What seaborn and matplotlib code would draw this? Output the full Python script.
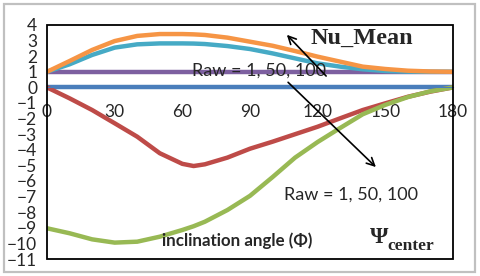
import numpy as np
import pandas as pd
import matplotlib
matplotlib.use("Agg")
import matplotlib.pyplot as plt
from matplotlib.patches import Rectangle
import seaborn as sns

# Data (every 10 degrees, plus the red minimum at 65)
angles = [0, 10, 20, 30, 40, 50, 60, 65, 70, 80, 90, 100, 110, 120, 130, 140, 150, 160, 170, 180]
blue_vals = [0] * 20
purple_vals = [1] * 20
red_vals = [0, -0.7, -1.45, -2.3, -3.16, -4.22, -4.9, -5.04, -4.93, -4.5, -3.93,
            -3.48, -3.0, -2.52, -1.98, -1.45, -1.02, -0.6, -0.27, 0]
green_vals = [-9.03, -9.35, -9.74, -9.95, -9.89, -9.57, -9.14, -8.9, -8.61, -7.86, -6.95,
              -5.75, -4.5, -3.5, -2.6, -1.72, -1.12, -0.62, -0.25, 0]
teal_vals = [1.0, 1.48, 2.08, 2.55, 2.76, 2.82, 2.82, 2.81, 2.78, 2.65, 2.46,
             2.18, 1.86, 1.54, 1.33, 1.16, 1.05, 1.01, 1.0, 1.0]
orange_vals = [1.0, 1.69, 2.4, 2.97, 3.3, 3.42, 3.42, 3.4, 3.36, 3.19, 2.93,
               2.67, 2.33, 1.97, 1.65, 1.33, 1.18, 1.07, 1.02, 1.0]

x_ticks = [0, 30, 60, 90, 120, 150, 180]
y_ticks = list(range(-11, 5))

series = [
    ("blue", blue_vals, "#4a7ebb"),
    ("red", red_vals, "#be4b48"),
    ("green", green_vals, "#98b954"),
    ("purple", purple_vals, "#7d60a0"),
    ("teal", teal_vals, "#46aac5"),
    ("orange", orange_vals, "#f69545"),
]

sns.set_style("white")
plt.rcParams['font.family'] = ['Lato', 'DejaVu Sans']

fig = plt.figure(figsize=(4.8, 2.76), dpi=100)
ax = fig.add_axes([47 / 480, 1 - 259 / 276, 406 / 480, 234 / 276])

for name, vals, col in series:
    sns.lineplot(x=angles, y=vals, color=col, lw=3.2, ax=ax, legend=False,
                 solid_joinstyle='round', solid_capstyle='round')

ax.set_xlim(0, 180)
ax.set_ylim(-11, 4)
ax.set_xticks(x_ticks)
ax.set_yticks(y_ticks)
ax.tick_params(axis='both', length=0, labelsize=12.5)
ax.tick_params(axis='y', pad=7)
ax.tick_params(axis='x', pad=12)

# x axis crosses at zero, plot area keeps its own border
for s in ['top', 'right', 'left']:
    ax.spines[s].set_visible(False)
ax.spines['bottom'].set_position(('data', 0))
ax.spines['bottom'].set_color('#4a7ebb')
ax.add_patch(Rectangle((0, 0), 1, 1, transform=ax.transAxes, fill=False,
                       ec='black', lw=1.3, clip_on=False, zorder=5))

# chart area frame
fig.add_artist(Rectangle((4 / 480, 4 / 276), 471 / 480, 268 / 276,
                         transform=fig.transFigure, fill=False,
                         ec='#c0c0c0', lw=1.6))

# annotations
ax.text(139.5, 3.17, "Nu_Mean", family='Liberation Serif', weight='bold',
        fontsize=17.5, ha='center', va='center')
ax.text(94, 1.1, "Raw = 1, 50, 100", fontsize=13, ha='center', va='center')
ax.text(135, -6.85, "Raw = 1, 50, 100", fontsize=13, ha='center', va='center')
ax.text(84.4, -9.8, "inclination angle (\u03a6)", weight='bold', fontsize=12.2,
        ha='center', va='center', family=['Lato', 'DejaVu Sans'])
ax.text(143.2, -9.65, "\u03a8", family='Liberation Serif', weight='bold',
        fontsize=17, ha='left', va='center')
ax.text(150.7, -10.17, "center", family='Liberation Serif', weight='bold',
        fontsize=12.5, ha='left', va='center')

ax.annotate("", xy=(105.5, 3.5), xytext=(124.6, 0.6),
            arrowprops=dict(arrowstyle='->', color='black', lw=1.2,
                            mutation_scale=14))
ax.annotate("", xy=(146.7, -5.23), xytext=(106, 0.45),
            arrowprops=dict(arrowstyle='->', color='black', lw=1.2,
                            mutation_scale=14))

fig.savefig("out.png", dpi=100)
